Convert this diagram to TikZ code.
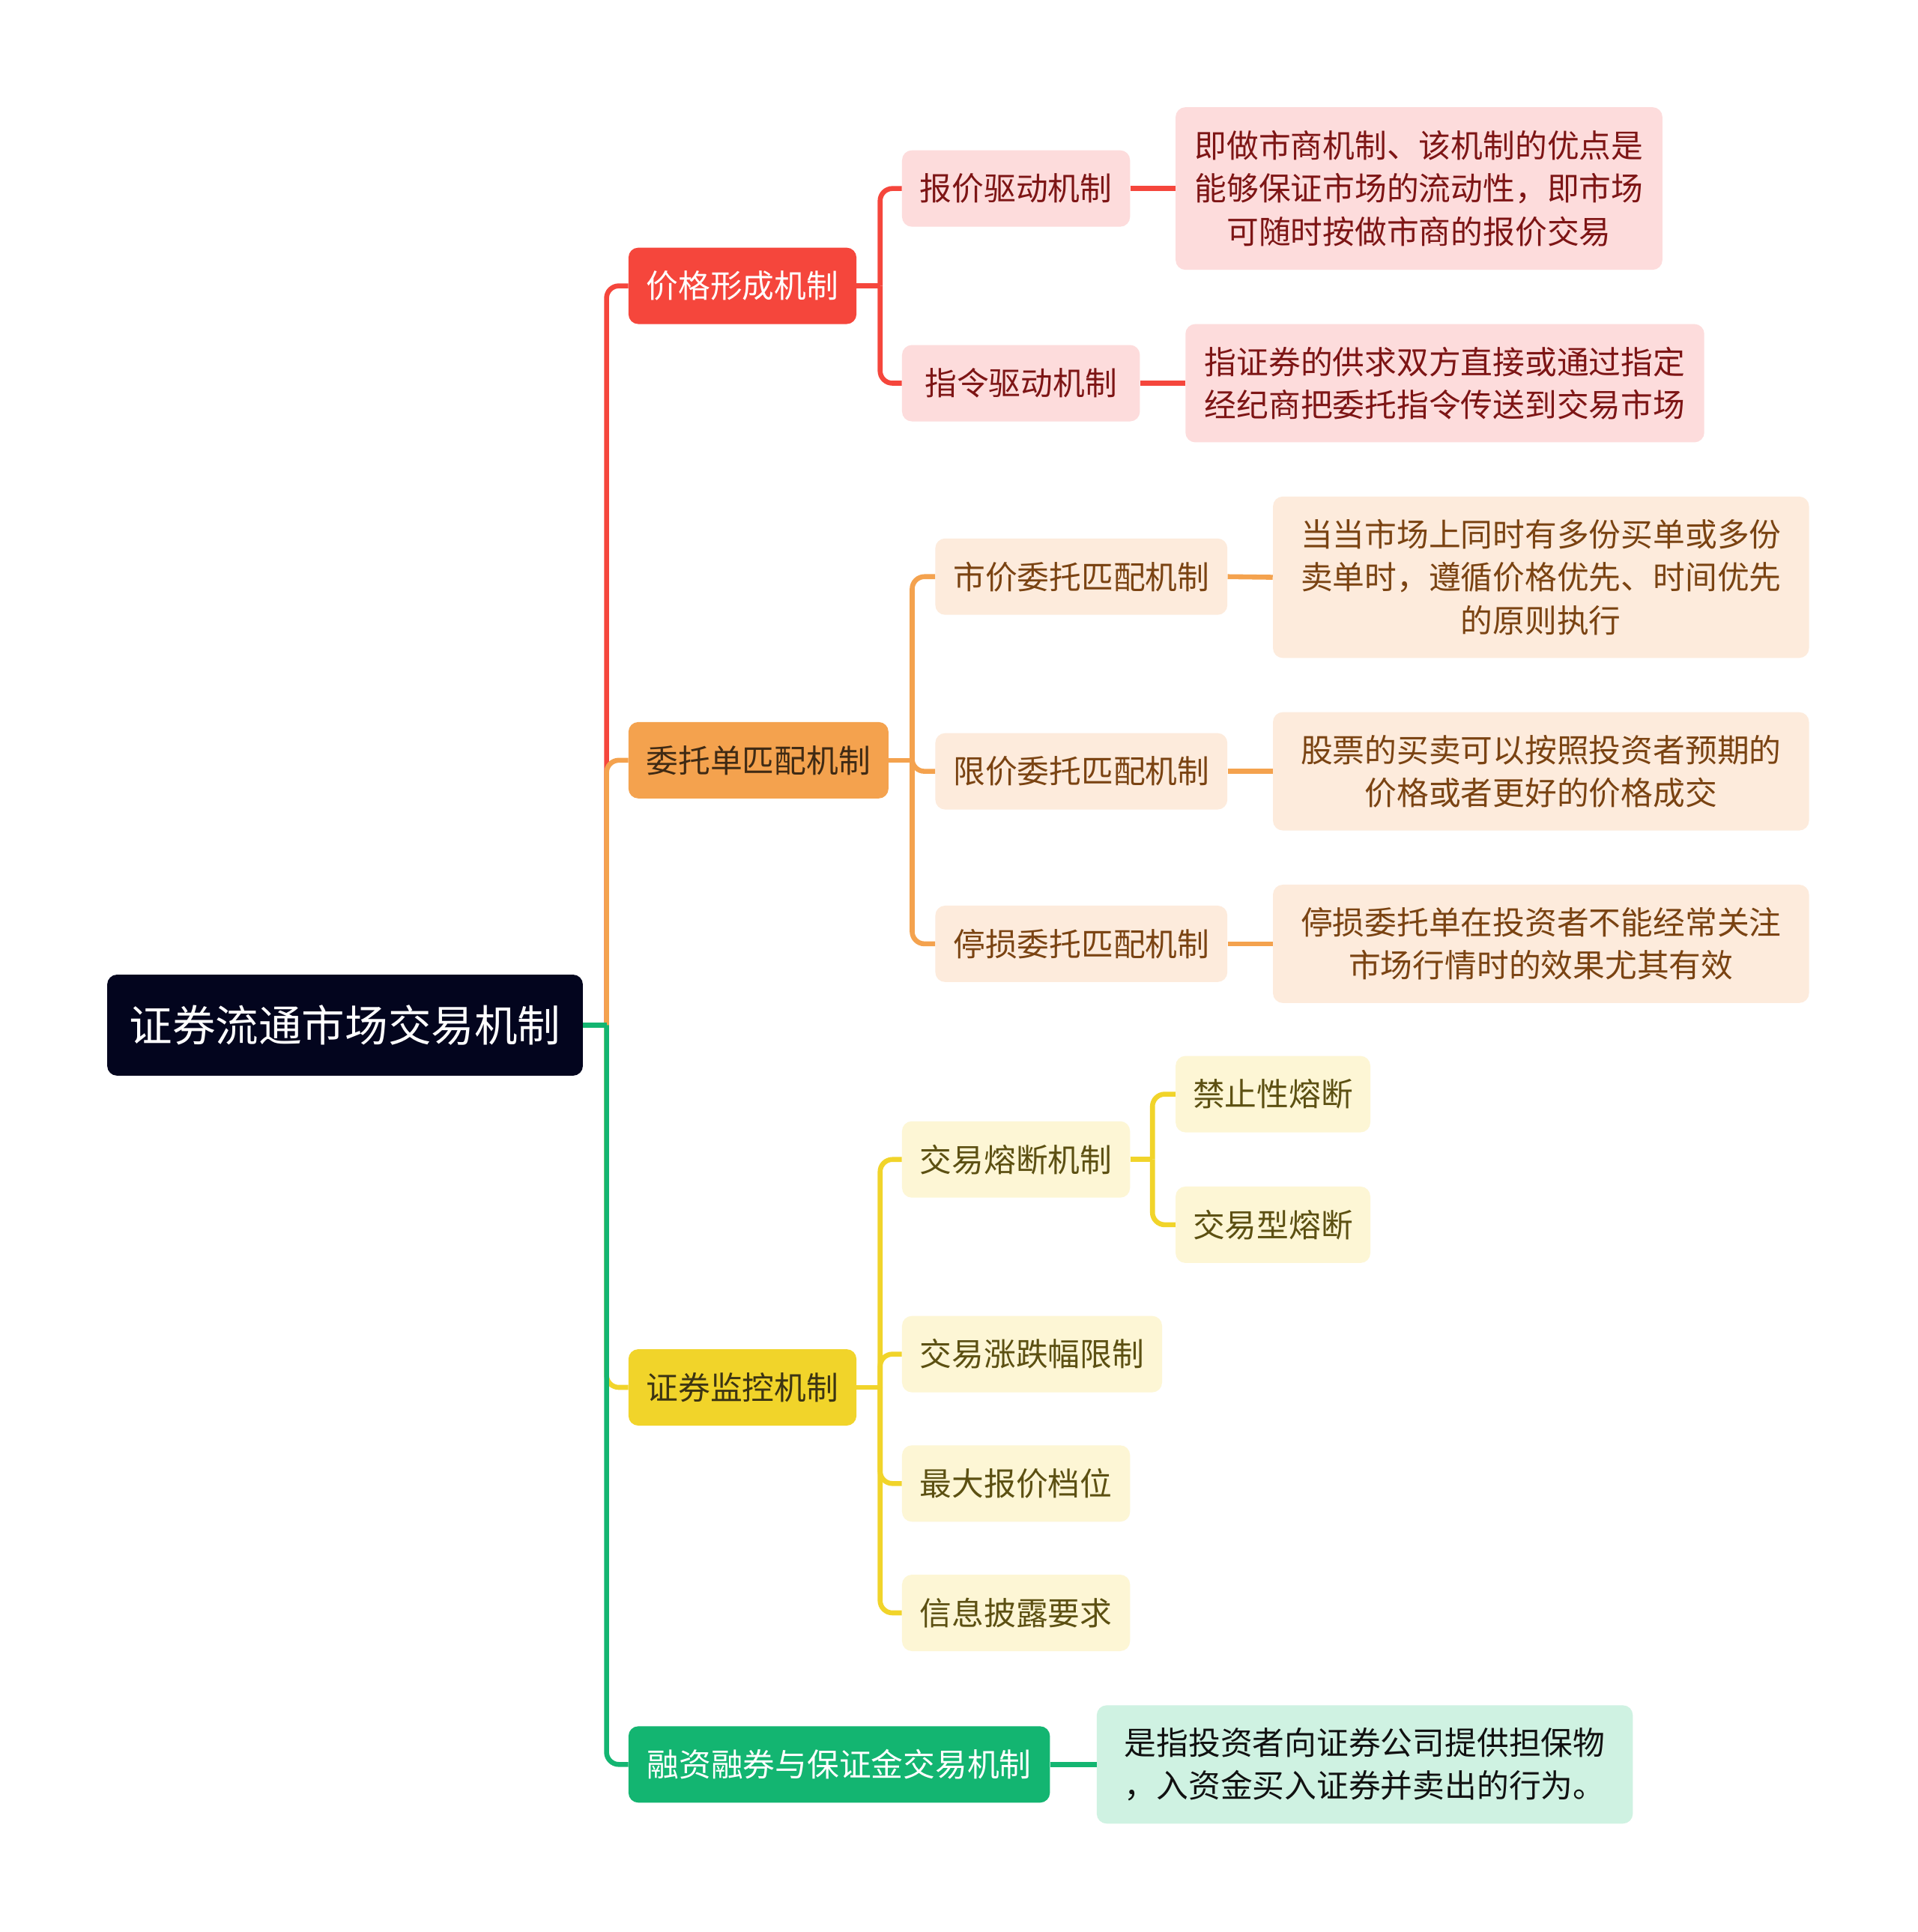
\documentclass[tikz,border=0pt]{standalone}
\usepackage{fontspec}
\newfontfamily\cjk{Noto Sans CJK SC}
\definecolor{rootfill}{HTML}{03051E}
\definecolor{redmain}{HTML}{F5463C}
\definecolor{redlight}{HTML}{FDDCDC}
\definecolor{redtext}{HTML}{7D1515}
\definecolor{orgmain}{HTML}{F4A24E}
\definecolor{orglight}{HTML}{FDEBDC}
\definecolor{orgtext}{HTML}{7A4312}
\definecolor{orgdark}{HTML}{3F2A14}
\definecolor{ylwmain}{HTML}{F1D42A}
\definecolor{ylwlight}{HTML}{FDF6D5}
\definecolor{ylwtext}{HTML}{5C5012}
\definecolor{ylwdark}{HTML}{3C3413}
\definecolor{grnmain}{HTML}{13B571}
\definecolor{grnlight}{HTML}{CFF2E2}
\definecolor{grntext}{HTML}{111111}
\tikzset{
  box/.style={rectangle, rounded corners=8pt, inner sep=0pt, align=center,
    font=\cjk\fontsize{26}{35}\selectfont},
  sz/.style 2 args={minimum width=#1pt, minimum height=#2pt},
  rootbox/.style={box, fill=rootfill, text=white, font=\cjk\fontsize{35}{42}\selectfont},
  redL1/.style={box, fill=redmain, text=white},
  redL2/.style={box, fill=redlight, text=redtext},
  orgL1/.style={box, fill=orgmain, text=orgdark},
  orgL2/.style={box, fill=orglight, text=orgtext},
  ylwL1/.style={box, fill=ylwmain, text=ylwdark},
  ylwL2/.style={box, fill=ylwlight, text=ylwtext},
  grnL1/.style={box, fill=grnmain, text=white},
  grnL2/.style={box, fill=grnlight, text=grntext},
  link/.style={line width=4pt, rounded corners=10pt},
  redlink/.style={link, draw=redmain},
  orglink/.style={link, draw=orgmain},
  ylwlink/.style={link, draw=ylwmain},
  grnlink/.style={link, draw=grnmain},
}
\begin{document}
\begin{tikzpicture}[x=1pt,y=-1pt]
\useasboundingbox[fill=white] (0,0) rectangle (1556,1568);

% root
\node[rootbox, sz={386}{82}] (root) at (280,832) {证券流通市场交易机制};

% level 1
\node[redL1, sz={185}{62}] (p1) at (602.5,232) {价格形成机制};
\node[orgL1, sz={211}{62}] (p2) at (615.5,617) {委托单匹配机制};
\node[ylwL1, sz={185}{62}] (p3) at (602.5,1126) {证券监控机制};
\node[grnL1, sz={342}{62}] (p4) at (681,1432) {融资融券与保证金交易机制};

% red branch
\node[redL2, sz={185}{62}] (a1) at (824.5,153) {报价驱动机制};
\node[redL2, sz={193}{62}] (a2) at (828.5,311) {指令驱动机制};
\node[redL2, sz={395}{132}] (b1) at (1151.5,153) {即做市商机制、该机制的优点是\\能够保证市场的流动性，即市场\\可随时按做市商的报价交易};
\node[redL2, sz={421}{96}] (b2) at (1172.5,311) {指证券的供求双方直接或通过指定\\经纪商把委托指令传送到交易市场};

% orange branch
\node[orgL2, sz={237}{62}] (c1) at (877.5,468) {市价委托匹配机制};
\node[orgL2, sz={237}{62}] (c2) at (877.5,626) {限价委托匹配机制};
\node[orgL2, sz={237}{62}] (c3) at (877.5,766) {停损委托匹配机制};
\node[orgL2, sz={435}{131}] (d1) at (1250.5,468.5) {当当市场上同时有多份买单或多份\\卖单时，遵循价格优先、时间优先\\的原则执行};
\node[orgL2, sz={435}{96}] (d2) at (1250.5,626) {股票的买卖可以按照投资者预期的\\价格或者更好的价格成交};
\node[orgL2, sz={435}{96}] (d3) at (1250.5,766) {停损委托单在投资者不能经常关注\\市场行情时的效果尤其有效};

% yellow branch
\node[ylwL2, sz={185}{62}] (e1) at (824.5,941) {交易熔断机制};
\node[ylwL2, sz={211}{62}] (e2) at (837.5,1099) {交易涨跌幅限制};
\node[ylwL2, sz={185}{62}] (e3) at (824.5,1204) {最大报价档位};
\node[ylwL2, sz={185}{62}] (e4) at (824.5,1309) {信息披露要求};
\node[ylwL2, sz={158}{62}] (f1) at (1033,888) {禁止性熔断};
\node[ylwL2, sz={158}{62}] (f2) at (1033,994) {交易型熔断};

% green branch
\node[grnL2, sz={435}{96}] (g1) at (1107.5,1432) {是指投资者向证券公司提供担保物\\，入资金买入证券并卖出的行为。};

% junction coordinates
\path (root.east) ++(19,0) coordinate (j0);
\path (p1.east) ++(19,0) coordinate (j1);
\path (p2.east) ++(19,0) coordinate (j2);
\path (p3.east) ++(19,0) coordinate (j3);
\path (e1.east) ++(18,0) coordinate (j4);

% root to level 1
\draw[redlink] (j0) |- (p1.west);
\draw[orglink] (j0) |- (p2.west);
\draw[ylwlink] (j0) |- (p3.west);
\draw[grnlink] (j0) |- (p4.west);
\draw[grnlink] (root.east) -- (j0);

% red
\draw[redlink] (p1.east) -- (j1);
\draw[redlink] (j1) |- (a1.west);
\draw[redlink] (j1) |- (a2.west);
\draw[redlink] (a1.east) -- (b1.west);
\draw[redlink] (a2.east) -- (b2.west);

% orange
\draw[orglink] (p2.east) -- (j2);
\draw[orglink] (j2) |- (c1.west);
\draw[orglink] (j2) |- (c2.west);
\draw[orglink] (j2) |- (c3.west);
\draw[orglink] (c1.east) -- (d1.west);
\draw[orglink] (c2.east) -- (d2.west);
\draw[orglink] (c3.east) -- (d3.west);

% yellow
\draw[ylwlink] (p3.east) -- (j3);
\draw[ylwlink] (j3) |- (e1.west);
\draw[ylwlink] (j3) |- (e2.west);
\draw[ylwlink] (j3) |- (e3.west);
\draw[ylwlink] (j3) |- (e4.west);
\draw[ylwlink] (e1.east) -- (j4);
\draw[ylwlink] (j4) |- (f1.west);
\draw[ylwlink] (j4) |- (f2.west);

% green
\draw[grnlink] (p4.east) -- (g1.west);
\end{tikzpicture}
\end{document}
